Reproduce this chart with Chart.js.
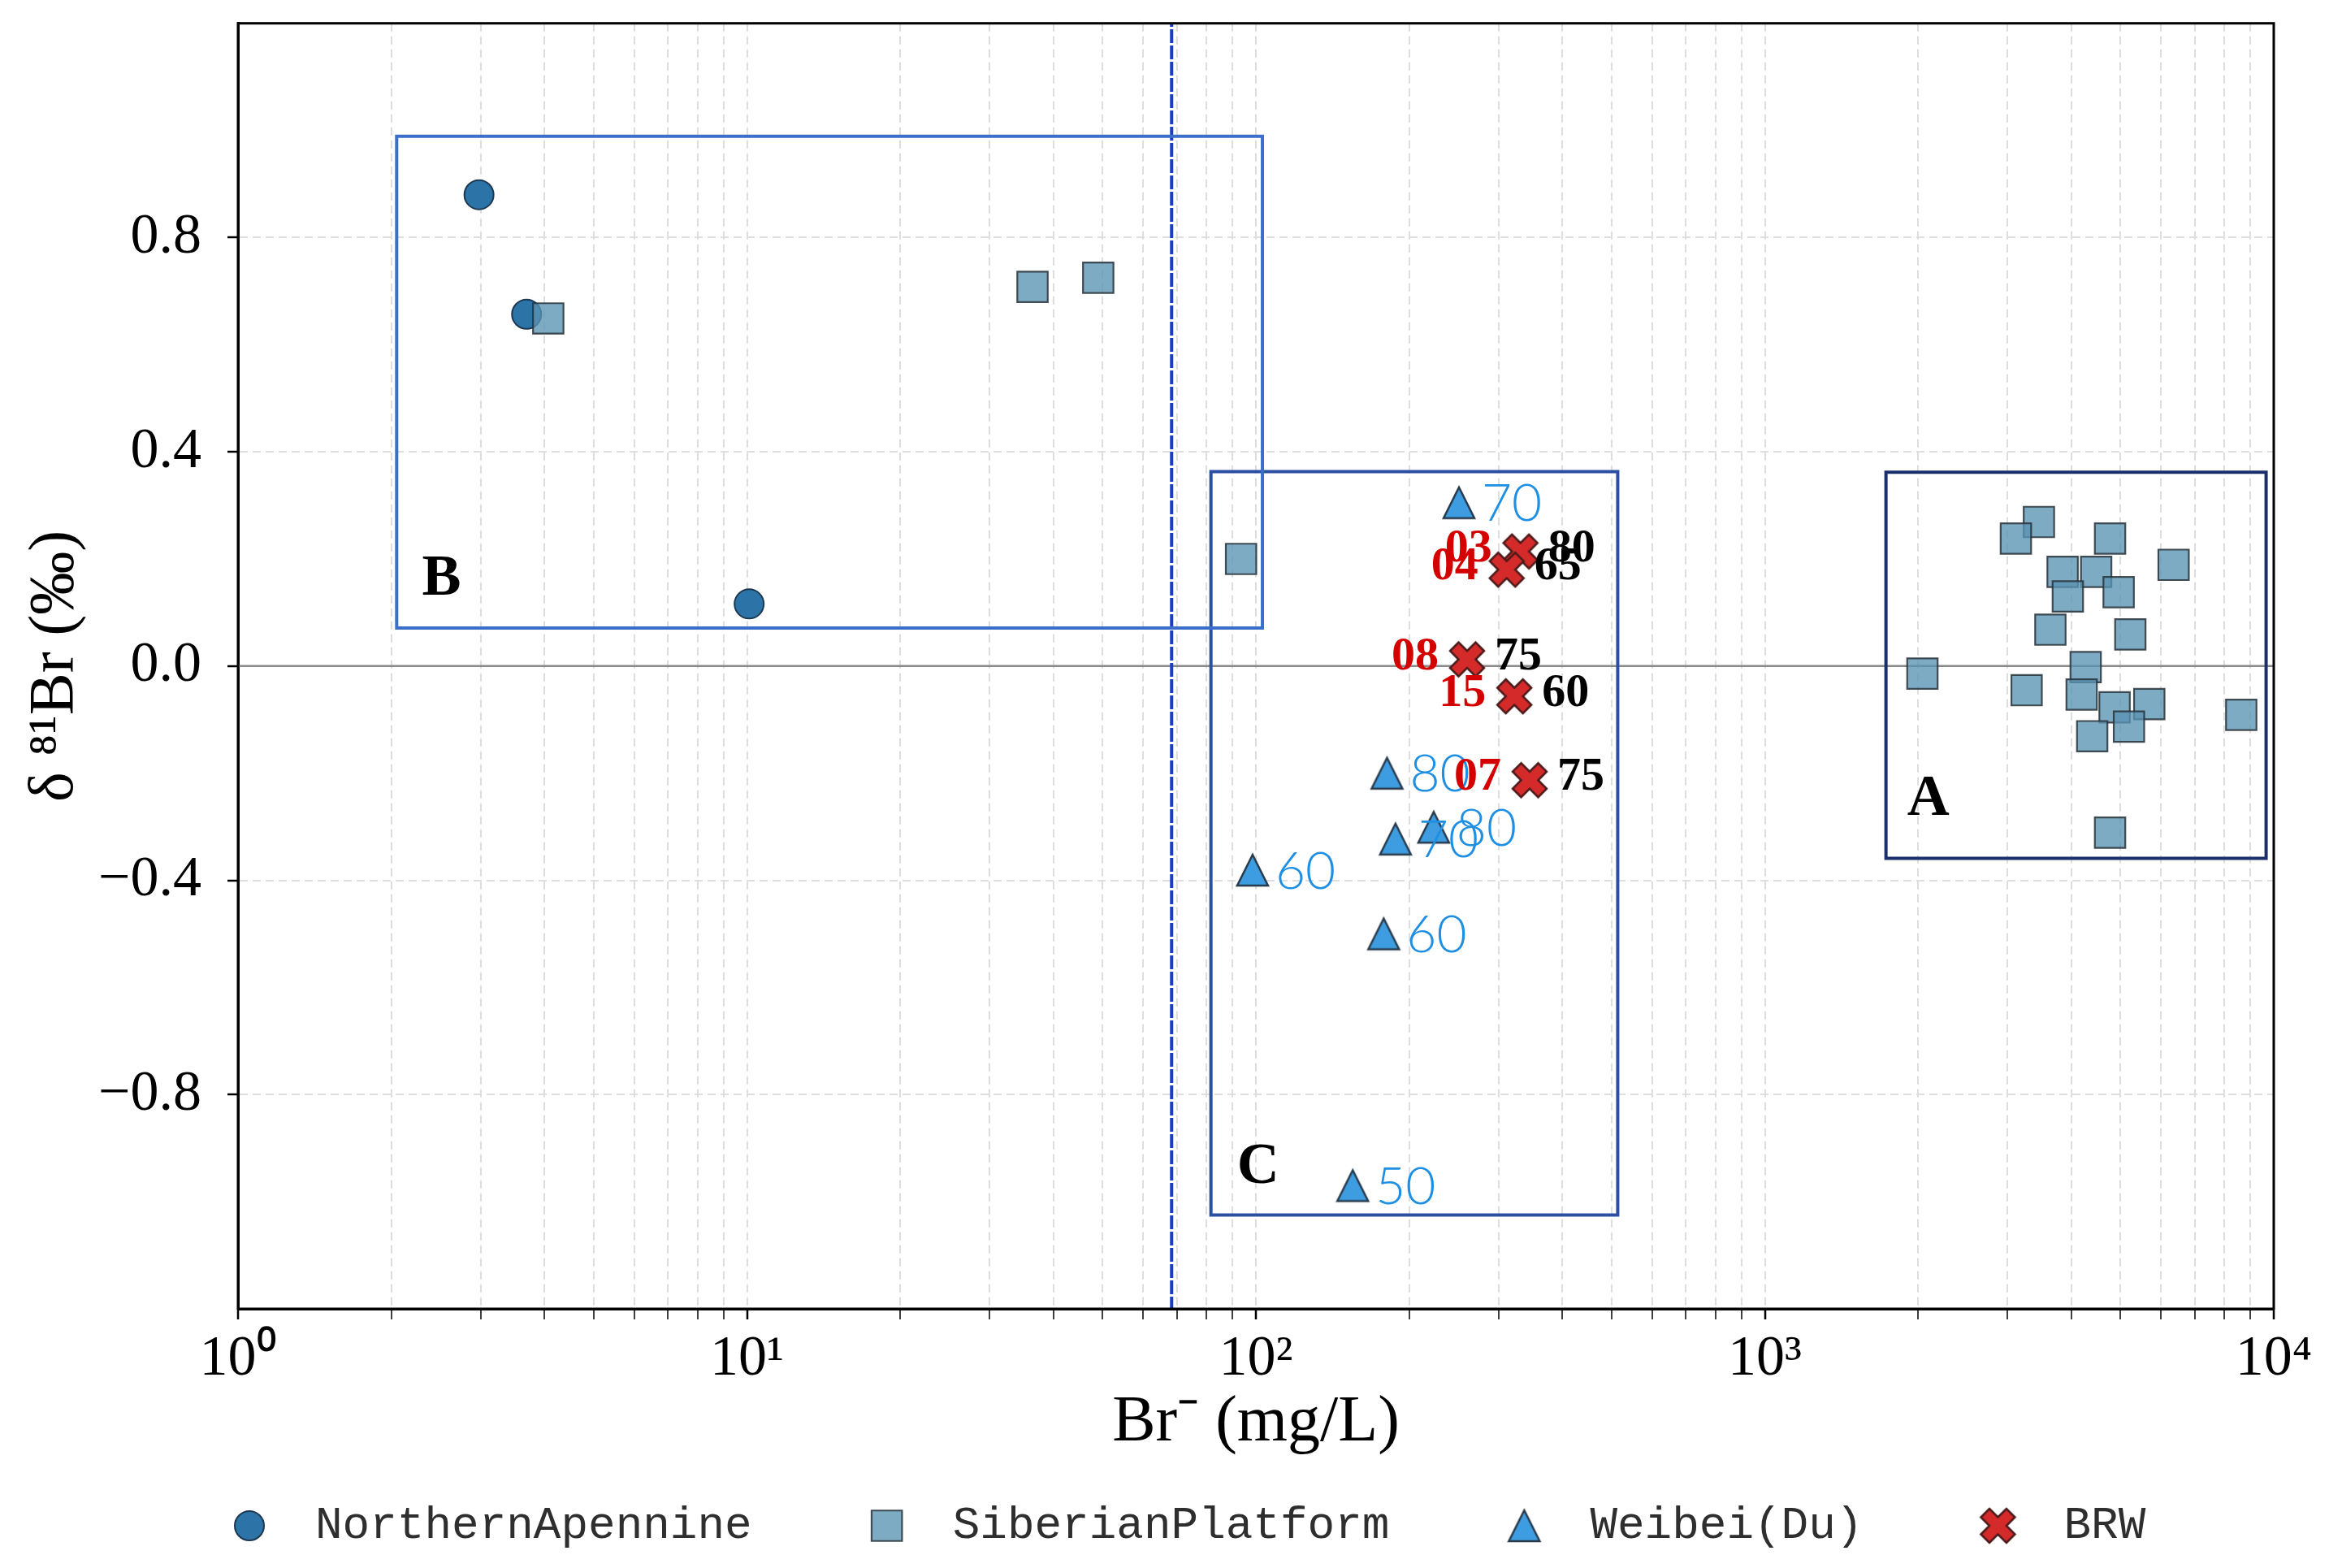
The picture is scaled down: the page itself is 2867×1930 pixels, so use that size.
<!DOCTYPE html>
<html>
<head>
<meta charset="utf-8">
<title>δ81Br vs Br-</title>
<script src="https://cdn.jsdelivr.net/npm/chart.js@4.4.1/dist/chart.umd.min.js"></script>
<style>
  html, body { margin: 0; padding: 0; background: #fff; }
  canvas { display: block; }
</style>
</head>
<body>
<canvas id="chart" width="2867" height="1930" style="width:2867px;height:1930px"></canvas>
<script>
// Northern Apennine
const naX = [2.975, 3.69, 10.1];
const naY = [0.880, 0.657, 0.116];

// Siberian Platform
const spX = [4.07, 36.4, 49.0, 93.5,
  3456, 3114, 4768, 6356, 3847, 4478, 3939, 4957, 3640, 5226,
  2040, 4270, 3269, 4193, 4867, 5694, 8632, 5194, 4398, 4768];
const spY = [0.649, 0.708, 0.725, 0.200,
  0.269, 0.238, 0.238, 0.189, 0.176, 0.176, 0.130, 0.138, 0.068, 0.059,
  -0.014, -0.002, -0.045, -0.053, -0.077, -0.071, -0.091, -0.113, -0.131, -0.311];

// Weibei (Du), with temperature labels
const wbX = [250.6, 181, 188, 223.5, 98.5, 178.3, 155];
const wbY = [0.305, -0.200, -0.323, -0.301, -0.381, -0.500, -0.970];
const wbLabels = ['70', '80', '70', '80', '60', '60', '50'];

// BRW samples: id on the left, temperature on the right
const brwX = [331, 311, 260, 322, 345];
const brwY = [0.214, 0.180, 0.0125, -0.0565, -0.213];
const brwIds = ['03', '04', '08', '15', '07'];
const brwTemps = ['80', '65', '75', '60', '75'];

// zones
const boxAX = [1730, 9660];
const boxAY = [-0.359, 0.362];
const boxBX = [2.05, 103];
const boxBY = [0.071, 0.989];
const boxCX = [81.6, 514];
const boxCY = [-1.025, 0.363];
const boxLetters = ['A', 'B', 'C'];
const boxLetterX = [2096, 2.51, 101];
const boxLetterY = [-0.249, 0.161, -0.936];
const limitX = 68.3;

// axes
const xRange = [1, 10000];
const yRange = [-1.2, 1.2];
const xTicks = [1, 10, 100, 1000, 10000];
const yTicks = [-0.8, -0.4, 0, 0.4, 0.8];

const SERIF = '"Liberation Serif", "Times New Roman", serif';
const sup = { 0: '⁰', 1: '¹', 2: '²', 3: '³', 4: '⁴' };

// minor log grid: 1..9 per decade
const xGrid = [];
xTicks.slice(0, -1).forEach(d => { for (let k = 1; k < 10; k++) xGrid.push(d * k); });
xGrid.push(xTicks[xTicks.length - 1]);

const pts = (xs, ys) => xs.map((x, i) => ({ x, y: ys[i] }));
const rect = (xs, ys) => [
  { x: xs[0], y: ys[0] }, { x: xs[1], y: ys[0] }, { x: xs[1], y: ys[1] },
  { x: xs[0], y: ys[1] }, { x: xs[0], y: ys[0] }
];

// matplotlib-like '^' and 'X' markers as images
function markerCanvas(size, draw) {
  const c = document.createElement('canvas');
  c.width = c.height = size;
  const g = c.getContext('2d');
  g.translate(size / 2, size / 2);
  draw(g);
  return c;
}
const triMarker = markerCanvas(50, g => {
  const s = 19;
  g.beginPath();
  g.moveTo(0, -s); g.lineTo(-s, s); g.lineTo(s, s); g.closePath();
  g.fillStyle = '#3d9de0';
  g.fill();
  g.lineWidth = 2.5;
  g.strokeStyle = '#27394a';
  g.stroke();
});
const xMarker = markerCanvas(50, g => {
  const u = 10.5;
  const v = [[-1, -2], [0, -1], [1, -2], [2, -1], [1, 0], [2, 1], [1, 2], [0, 1], [-1, 2], [-2, 1], [-1, 0], [-2, -1]];
  g.beginPath();
  v.forEach(([a, b], i) => i ? g.lineTo(a * u, b * u) : g.moveTo(a * u, b * u));
  g.closePath();
  g.fillStyle = '#d52a2a';
  g.fill();
  g.lineWidth = 2.5;
  g.strokeStyle = '#4a1a1a';
  g.stroke();
});

const lineSet = (data, color, width, dash, order) => ({
  data, showLine: true, pointRadius: 0, borderColor: color, borderWidth: width,
  borderDash: dash, borderCapStyle: 'square', borderJoinStyle: 'miter', fill: false, order
});

const datasets = [
  { label: 'NorthernApennine', inLegend: true, data: pts(naX, naY), pointStyle: 'circle',
    pointRadius: 18, pointBackgroundColor: '#2c74a8', pointBorderColor: '#1d3850', pointBorderWidth: 2, order: 4 },
  { label: 'SiberianPlatform', inLegend: true, data: pts(spX, spY), pointStyle: 'rect',
    pointRadius: 26.5, pointBackgroundColor: 'rgba(90,148,180,0.78)', pointBorderColor: 'rgba(40,50,58,0.85)',
    pointBorderWidth: 2.2, order: 3 },
  { label: 'Weibei(Du)', inLegend: true, data: pts(wbX, wbY), pointStyle: triMarker, pointRadius: 19,
    pointLabels: wbLabels, order: 2 },
  { label: 'BRW', inLegend: true, data: pts(brwX, brwY), pointStyle: xMarker, pointRadius: 20,
    leftLabels: brwIds, rightLabels: brwTemps, order: 1 },
  lineSet(rect(boxAX, boxAY), '#1a2f6b', 4, [], 6),
  lineSet(rect(boxBX, boxBY), '#3c6fcc', 4, [], 6),
  lineSet(rect(boxCX, boxCY), '#2b50a2', 4, [], 6),
  lineSet([{ x: limitX, y: yRange[0] }, { x: limitX, y: yRange[1] }], '#1c3cc4', 4, [13, 7], 7),
  lineSet([{ x: xRange[0], y: 0 }, { x: xRange[1], y: 0 }], '#8a8a8a', 2.5, [], 8)
];

const labelPlugin = {
  id: 'pointText',
  afterDatasetsDraw(chart) {
    const ctx = chart.ctx;
    ctx.save();
    ctx.textBaseline = 'middle';
    chart.data.datasets.forEach((d, i) => {
      const meta = chart.getDatasetMeta(i);
      meta.data.forEach((p, j) => {
        if (d.pointLabels) {
          ctx.font = '300 64px Lato, "Noto Sans", sans-serif';
          ctx.fillStyle = '#1f8fe3';
          ctx.textAlign = 'left';
          ctx.fillText(d.pointLabels[j], p.x + 28, p.y + 2);
        }
        if (d.leftLabels) {
          ctx.font = 'bold 58px ' + SERIF;
          ctx.fillStyle = '#d40000';
          ctx.textAlign = 'right';
          ctx.fillText(d.leftLabels[j], p.x - 35, p.y - 3);
          ctx.fillStyle = '#000';
          ctx.textAlign = 'left';
          ctx.fillText(d.rightLabels[j], p.x + 34, p.y - 3);
        }
      });
    });
    const { x, y } = chart.scales;
    ctx.font = 'bold 72px ' + SERIF;
    ctx.fillStyle = '#000';
    ctx.textAlign = 'center';
    boxLetters.forEach((t, i) => {
      ctx.fillText(t, x.getPixelForValue(boxLetterX[i]), y.getPixelForValue(boxLetterY[i]));
    });
    // full frame
    const a = chart.chartArea;
    ctx.strokeStyle = '#000';
    ctx.lineWidth = 3;
    ctx.strokeRect(a.left, a.top, a.right - a.left, a.bottom - a.top);
    ctx.restore();
  }
};

const legendPlugin = {
  id: 'bottomLegend',
  afterDraw(chart) {
    const ctx = chart.ctx;
    ctx.save();
    ctx.font = '56px "Liberation Mono", "DejaVu Sans Mono", monospace';
    ctx.textBaseline = 'middle';
    let lx = 307;
    const ly = 1878;
    chart.data.datasets.filter(d => d.inLegend).forEach(d => {
      const st = d.pointStyle;
      if (typeof st === 'object') {
        ctx.drawImage(st, lx - st.width / 2, ly - st.height / 2);
      } else {
        ctx.beginPath();
        if (st === 'circle') {
          ctx.arc(lx, ly, d.pointRadius, 0, Math.PI * 2);
        } else {
          const h = d.pointRadius * Math.SQRT1_2;
          ctx.rect(lx - h, ly - h, 2 * h, 2 * h);
        }
        ctx.fillStyle = d.pointBackgroundColor;
        ctx.fill();
        ctx.lineWidth = d.pointBorderWidth;
        ctx.strokeStyle = d.pointBorderColor;
        ctx.stroke();
      }
      ctx.fillStyle = '#2e2e2e';
      ctx.textAlign = 'left';
      ctx.fillText(d.label, lx + 81, ly);
      lx += 81 + ctx.measureText(d.label).width + 166;
    });
    ctx.restore();
  }
};

new Chart(document.getElementById('chart'), {
  type: 'scatter',
  data: { datasets },
  plugins: [labelPlugin, legendPlugin],
  options: {
    responsive: false,
    devicePixelRatio: 1,
    animation: false,
    events: [],
    layout: { padding: { left: 0, right: 68, top: 26, bottom: 0 } },
    plugins: { legend: { display: false }, tooltip: { enabled: false } },
    scales: {
      x: {
        type: 'logarithmic',
        min: xRange[0],
        max: xRange[1],
        afterBuildTicks: s => { s.ticks = xGrid.map(v => ({ value: v, major: xTicks.includes(v) })); },
        afterFit: s => { s.height = 319; s.paddingLeft = 0; s.paddingRight = 0; },
        ticks: {
          autoSkip: false, maxRotation: 0, minRotation: 0, padding: 8, color: '#000',
          font: { family: SERIF, size: 70 },
          callback: v => xTicks.includes(v) ? '10' + sup[Math.round(Math.log10(v))] : ''
        },
        grid: {
          color: '#dedede', lineWidth: 2, tickColor: '#000', tickLength: 13,
          tickWidth: c => (c.tick && c.tick.major) ? 2.5 : 1.5
        },
        border: { display: true, color: '#000', width: 3, dash: [10, 6] },
        title: {
          display: true, text: 'Br⁻ (mg/L)', color: '#000',
          font: { family: SERIF, size: 80 }, padding: { top: 0, bottom: 130 }
        }
      },
      y: {
        min: yRange[0],
        max: yRange[1],
        afterBuildTicks: s => { s.ticks = yTicks.map(v => ({ value: v })); },
        afterFit: s => { s.width = 293; s.paddingTop = 0; s.paddingBottom = 0; },
        ticks: {
          autoSkip: false, padding: 32, color: '#000',
          font: { family: SERIF, size: 70 },
          callback: v => (v < 0 ? '−' : '') + Math.abs(v).toFixed(1)
        },
        grid: { color: '#dedede', lineWidth: 2, tickColor: '#000', tickLength: 13, tickWidth: 2.5 },
        border: { display: true, color: '#000', width: 3, dash: [10, 6] },
        title: {
          display: true, text: 'δ ⁸¹Br (‰)', color: '#000',
          font: { family: SERIF, size: 78 }, padding: { top: 22, bottom: 0 }
        }
      }
    }
  }
});
</script>
</body>
</html>
